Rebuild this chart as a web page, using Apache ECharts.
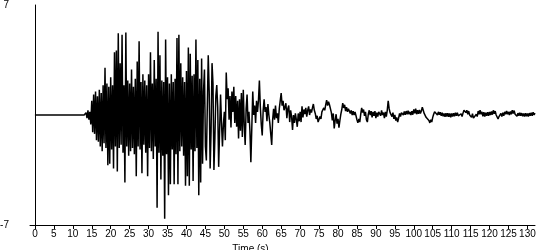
<!DOCTYPE html>
<html><head><meta charset="utf-8">
<script src="https://cdn.jsdelivr.net/npm/echarts@6/dist/echarts.min.js"></script>
<style>html,body{margin:0;padding:0;background:#fff}#c{width:550px;height:250px}</style>
</head><body><div id="c"></div>
<script>
// Acceleration record (cm/s/s); quiet until 13 s, then samples every 0.25 s
const quietStart = 0;
const recordStart = 13;
const sampleStep = 0.25;
const accel = [
 0.0,-0.1,0.15,-0.2,  0.3,-0.3,0.2,-0.6,
 0.9,-1.1,1.3,-1.2,  1.5,-1.6,1.2,-1.7,
 1.6,-2.0,1.4,-2.3,  1.9,-1.8,3.0,-2.1,
 2.0,-3.2,1.8,-3.1,  2.4,-2.2,1.9,-3.4,
 4.0,-2.0,4.1,-3.6,  5.2,-2.1,3.3,-1.9,
 5.1,-2.4,1.9,-4.3,  5.25,-2.0,2.2,-2.6,
 2.0,-2.3,2.9,-2.1,  1.8,-2.5,2.3,-3.9,
 3.4,-2.0,4.7,-2.2,  2.1,-3.7,2.6,-1.9,
 2.2,-2.4,1.9,-3.9,  2.6,-2.1,4.0,-2.3,
 2.0,-2.8,3.5,-2.0,  2.3,-5.9,5.3,-2.4,
 3.8,-4.1,2.2,-2.6,  2.1,-6.6,4.8,-2.5,
 2.4,-5.1,2.0,-4.4,  2.6,-2.2,2.1,-4.4,
 2.3,-2.5,4.9,-4.4,  5.1,-2.3,3.3,-2.0,
 2.4,-2.6,2.1,-4.5,  2.8,-3.9,4.3,-4.5,
 3.9,-2.2,2.5,-4.2,  2.6,-2.3,4.8,-2.1,
 3.5,-5.1,2.3,-4.3,  3.6,-3.1,1.5,2.9,
 -2.0,-2.9,0.5,3.8,  1.5,-3.4,-1.0,3.3,
 2.0,-3.5,-1.5,1.2,  1.9,0.5,-3.3,-1.0,
 1.3,-0.5,-2.0,-0.6,  0.2,-1.6,2.7,1.0,
 1.7,-0.3,1.2,-0.8,  1.5,0.2,1.8,-0.5,
 1.2,-0.75,0.9,-1.5,  1.0,-1.0,1.4,-1.4,
 1.6,-0.6,-1.9,0.4,  1.3,-0.5,0.2,-1.0,
 -3.0,-0.8,1.5,0.0,  0.6,-0.5,0.9,0.2,
 0.9,2.2,0.5,-0.6,  -1.3,0.3,1.0,0.2,
 0.5,-0.4,0.7,0.0,  -0.5,-1.2,-1.9,-0.3,
 0.4,-0.3,0.6,-0.2,  0.1,-0.5,0.4,0.9,
 1.4,0.6,0.9,0.3,  0.5,0.75,-0.2,0.4,
 0.6,-0.45,0.3,-0.1,  -0.95,0.0,-0.5,0.1,
 -0.3,-0.75,0.1,-0.4,
 0.2,-0.45,0.55,-0.15,  0.35,0.05,0.45,-0.1,
 0.3,0.55,0.0,0.35,  0.15,0.45,0.7,0.3,
 0.1,-0.25,-0.05,-0.45,  -0.35,-0.1,-0.25,0.2,
 0.1,0.45,0.3,0.65,  0.95,0.6,0.85,0.65,
 0.55,0.15,-0.35,0.1,  -0.85,-0.35,0.05,-0.55,
 -0.25,-0.8,-0.35,0.05,  0.35,0.75,0.45,0.65,
 0.25,0.5,0.2,0.4,  0.45,0.1,0.3,0.0,
 0.25,0.0,0.2,-0.05,  -0.3,-0.5,-0.25,-0.45,
 0.05,0.45,0.15,0.35,  -0.05,0.2,-0.3,-0.45,
 0.05,0.3,0.0,0.25,  -0.15,0.2,-0.05,0.25,
 -0.2,0.15,-0.1,0.2,  0.25,-0.05,0.3,0.0,
 0.15,-0.2,0.2,-0.1,  0.3,0.9,0.4,0.15,
 0.2,-0.1,0.15,-0.25,  0.0,-0.35,-0.15,-0.45,
 -0.2,0.1,-0.1,0.15,  0.2,0.0,0.22,0.02,
 0.25,0.05,0.28,0.05,  0.2,0.0,0.25,0.02,
 0.35,0.1,0.4,0.05,  0.3,0.08,0.32,0.1,
 0.25,0.5,0.3,0.1,  0.05,-0.15,-0.25,-0.1,
 -0.35,-0.5,-0.3,-0.45,  -0.15,0.05,0.2,0.1,
 0.25,0.0,0.2,0.02,  0.18,-0.05,0.15,-0.08,
 0.1,-0.12,0.12,-0.1,  0.12,-0.12,0.1,-0.15,
 0.1,-0.1,0.12,-0.08,  0.15,-0.05,0.15,-0.05,
 0.05,-0.15,0.08,-0.1,  0.12,0.3,0.4,0.15,
 0.3,0.05,0.25,0.0,  0.1,-0.15,0.08,-0.2,
 -0.1,-0.3,0.05,-0.1,  0.25,0.05,0.3,0.05,
 0.2,-0.08,0.18,-0.1,  0.15,-0.05,0.18,-0.05,
 0.2,0.0,0.22,0.02,  0.3,0.08,0.25,0.0,
 -0.05,-0.25,-0.1,-0.2,  0.1,-0.1,0.15,-0.05,
 0.2,0.05,0.25,0.05,  0.2,0.0,0.22,0.05,
 0.3,0.1,0.28,0.05,  0.15,-0.08,0.12,-0.05,
 0.15,-0.05,0.12,-0.08,  0.1,-0.1,0.12,-0.08,
 0.1,-0.1,0.12,-0.05,  0.15,-0.05,0.18,0.0,
 0.12
];
const xTicks = [0,5,10,15,20,25,30,35,40,45,50,55,60,65,70,75,80,85,90,95,100,105,110,115,120,125,130];
const yTicks = [-7, 7];
const yName = 'cm/s/s';
const xName = 'Time (s)';

const seriesData = [[quietStart, 0]];
accel.forEach((v, i) => seriesData.push([recordStart + i * sampleStep, v]));

const font = "Arial,'Liberation Sans',sans-serif";
const chart = echarts.init(document.getElementById('c'), null, {renderer: 'canvas'});
chart.setOption({
  animation: false,
  backgroundColor: '#fff',
  grid: {left: 30, top: 5, width: 505, height: 220, containLabel: false, outerBoundsMode: 'none'},
  xAxis: {
    type: 'value', min: -1.3, max: 132,
    name: xName, nameLocation: 'middle', nameGap: 12,
    nameTextStyle: {color: '#000', fontFamily: font, fontSize: 10, padding: [0, 64, 0, 0]},
    axisLine: {show: true, onZero: false, lineStyle: {color: '#000', width: 1}},
    axisTick: {show: true, inside: false, length: 4, lineStyle: {color: '#000'}, customValues: xTicks},
    axisLabel: {color: '#000', fontFamily: font, fontSize: 10, margin: 4, customValues: xTicks},
    splitLine: {show: false}
  },
  yAxis: {
    type: 'value', min: -7, max: 7,
    name: yName, nameLocation: 'middle', nameGap: 17, nameRotate: 90,
    nameTextStyle: {color: '#000', fontFamily: font, fontSize: 10},
    axisLine: {show: true, onZero: true, lineStyle: {color: '#000', width: 1}},
    axisTick: {show: false},
    axisLabel: {color: '#000', fontFamily: font, fontSize: 10, margin: 21, customValues: yTicks},
    splitLine: {show: false}
  },
  series: [{
    type: 'line', data: seriesData, showSymbol: false, symbol: 'none',
    sampling: null, lineStyle: {color: '#000', width: 1.5}, silent: true
  }]
});
</script></body></html>
